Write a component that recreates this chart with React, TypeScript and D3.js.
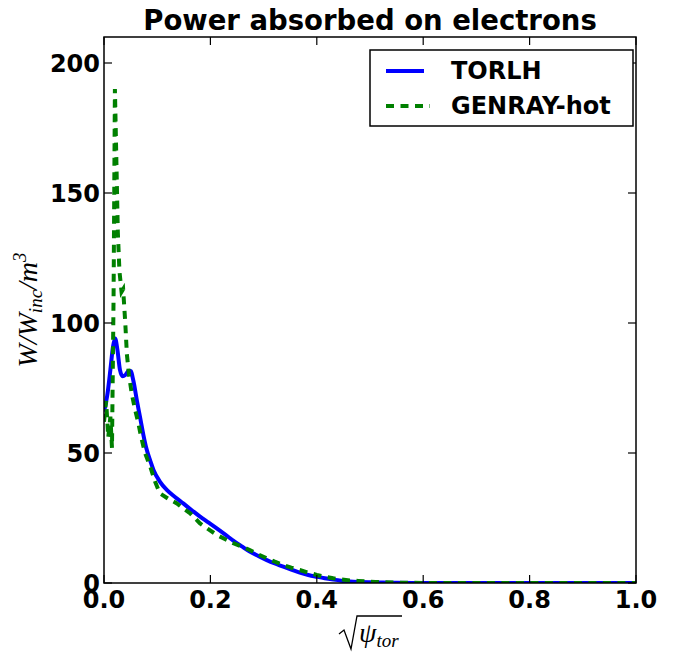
import React from "react";
import * as d3 from "d3";

// Radial profiles of absorbed power density
const torlhX = [0, 0.006, 0.012, 0.017, 0.021, 0.025, 0.030, 0.035, 0.040, 0.046, 0.050, 0.055, 0.062, 0.068, 0.074, 0.080, 0.087, 0.093, 0.105, 0.118, 0.134, 0.149, 0.165, 0.180, 0.196, 0.212, 0.228, 0.243, 0.259, 0.274, 0.290, 0.306, 0.321, 0.337, 0.352, 0.368, 0.384, 0.400, 0.415, 0.431, 0.446, 0.462, 0.480, 0.500, 0.525, 0.550, 0.600, 0.700, 0.800, 0.900, 1.0];
const torlhY = [66, 72, 82, 91, 94, 90, 82, 79.5, 80, 81.5, 81.5, 78, 70, 63.5, 57, 51.5, 47, 43.5, 39, 35.8, 33, 30.6, 28, 25.6, 23.3, 21.0, 18.6, 16.3, 14.1, 12.1, 10.4, 8.8, 7.5, 6.3, 5.1, 4.0, 3.1, 2.4, 1.8, 1.3, 0.9, 0.6, 0.4, 0.25, 0.15, 0.08, 0.02, 0, 0, 0, 0];

const genrayX = [0, 0.004, 0.008, 0.012, 0.015, 0.018, 0.0205, 0.023, 0.026, 0.029, 0.033, 0.036, 0.040, 0.043, 0.047, 0.052, 0.058, 0.064, 0.070, 0.077, 0.087, 0.096, 0.105, 0.120, 0.137, 0.150, 0.162, 0.180, 0.196, 0.212, 0.228, 0.243, 0.259, 0.274, 0.290, 0.306, 0.321, 0.337, 0.352, 0.368, 0.384, 0.400, 0.415, 0.431, 0.446, 0.462, 0.478, 0.493, 0.510, 0.525, 0.550, 0.600, 0.700, 0.800, 0.900, 1.0];
const genrayY = [62, 70, 56, 64, 52, 110, 190, 165, 135, 120, 112, 113, 100, 88, 80, 73, 67, 62, 56, 50, 44.7, 39, 34.5, 32.5, 30.6, 28.5, 26.8, 23, 20.7, 18.5, 16.8, 15.3, 14, 12.7, 11, 9.5, 8.2, 6.9, 5.9, 5.0, 4.0, 3.1, 2.4, 1.8, 1.4, 1.0, 0.8, 0.6, 0.4, 0.3, 0.15, 0.02, 0, 0, 0, 0];

const xTicks = [0, 0.2, 0.4, 0.6, 0.8, 1.0];
const yTicks = [0, 50, 100, 150, 200];

const seriesNames = ["TORLH", "GENRAY-hot"];

const W = 675;
const H = 652;
const margin = { left: 104, right: 39, top: 37, bottom: 69 };
const FONT = "'DejaVu Sans', sans-serif";
const MATH = "'Liberation Serif', serif";

export default function App() {
  const x = d3.scaleLinear().domain([0, 1]).range([margin.left, W - margin.right]);
  const y = d3.scaleLinear().domain([0, 210]).range([H - margin.bottom, margin.top]);

  const torlhLine = d3
    .line<number>()
    .x((_, i) => x(torlhX[i]))
    .y((d) => y(d))
    .curve(d3.curveMonotoneX);
  const genrayLine = d3
    .line<number>()
    .x((_, i) => x(genrayX[i]))
    .y((d) => y(d))
    .curve(d3.curveLinear);

  const x0 = x(0), x1 = x(1), y0 = y(0), y1 = y(210);
  const tickLen = 8;

  return (
    <svg width={W} height={H} style={{ position: "absolute", left: 0, top: 0 }}>
      <rect width={W} height={H} fill="#fff" />
      <defs>
        <clipPath id="plot">
          <rect x={x0} y={y1} width={x1 - x0} height={y0 - y1} />
        </clipPath>
      </defs>

      <g clipPath="url(#plot)">
        <path d={torlhLine(torlhY) || ""} fill="none" stroke="#0000ff" strokeWidth={4} strokeLinejoin="round" />
        <path d={genrayLine(genrayY) || ""} fill="none" stroke="#008000" strokeWidth={4} strokeDasharray="8,6.5" />
      </g>

      {/* frame */}
      <rect x={x0} y={y1} width={x1 - x0} height={y0 - y1} fill="none" stroke="#000" strokeWidth={1.5} />

      {/* ticks on all four sides, pointing inwards */}
      {xTicks.map((t) => (
        <g key={"x" + t}>
          <line x1={x(t)} x2={x(t)} y1={y0} y2={y0 - tickLen} stroke="#000" strokeWidth={1.2} />
          <line x1={x(t)} x2={x(t)} y1={y1} y2={y1 + tickLen} stroke="#000" strokeWidth={1.2} />
          <text x={x(t)} y={y0 + 25} textAnchor="middle" fontFamily={FONT} fontWeight="bold" fontSize={24}>
            {t.toFixed(1)}
          </text>
        </g>
      ))}
      {yTicks.map((t) => (
        <g key={"y" + t}>
          <line x1={x0} x2={x0 + tickLen} y1={y(t)} y2={y(t)} stroke="#000" strokeWidth={1.2} />
          <line x1={x1} x2={x1 - tickLen} y1={y(t)} y2={y(t)} stroke="#000" strokeWidth={1.2} />
          <text x={x0 - 4} y={y(t) + 8.5} textAnchor="end" fontFamily={FONT} fontWeight="bold" fontSize={24}>
            {t}
          </text>
        </g>
      ))}

      {/* title */}
      <text x={(x0 + x1) / 2} y={30} textAnchor="middle" fontFamily={FONT} fontWeight="bold" fontSize={27.5}>
        Power absorbed on electrons
      </text>

      {/* y label */}
      <text
        transform={`translate(37,${(y0 + y1) / 2}) rotate(-90)`}
        textAnchor="middle"
        fontFamily={MATH}
        fontStyle="italic"
        fontSize={28}
      >
        W/W
        <tspan fontSize={19} dy={5}>inc</tspan>
        <tspan dy={-5}>/m</tspan>
        <tspan fontSize={19} dy={-11}>3</tspan>
      </text>

      {/* x label: square root of psi_tor */}
      <path d="M339,634 L344,630 L351,649 L357,616 L402,616" fill="none" stroke="#000" strokeWidth={1.3} />
      <text x={359} y={642} fontFamily={MATH} fontStyle="italic" fontSize={28}>
        ψ
        <tspan fontSize={19} dy={5}>tor</tspan>
      </text>

      {/* legend */}
      <g>
        <rect x={370} y={50} width={263} height={76} fill="#fff" stroke="#000" strokeWidth={1.5} />
        <line x1={386} x2={424} y1={71} y2={71} stroke="#0000ff" strokeWidth={4} />
        <line x1={386} x2={430} y1={106} y2={106} stroke="#008000" strokeWidth={4} strokeDasharray="8,6.5" />
        <text x={451} y={79} fontFamily={FONT} fontWeight="bold" fontSize={24}>{seriesNames[0]}</text>
        <text x={451} y={114} fontFamily={FONT} fontWeight="bold" fontSize={24}>{seriesNames[1]}</text>
      </g>
    </svg>
  );
}
